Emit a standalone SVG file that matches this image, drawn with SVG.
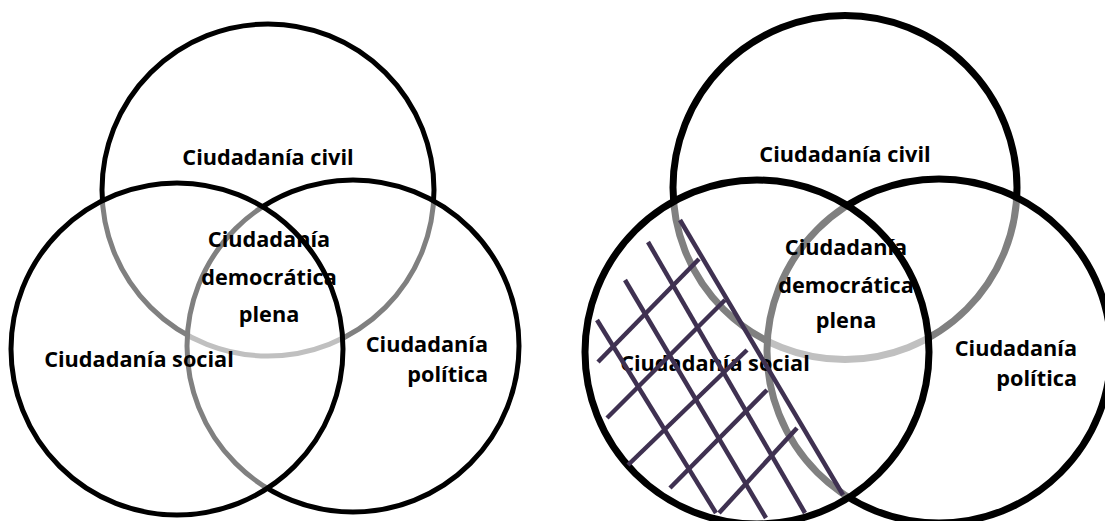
<svg xmlns="http://www.w3.org/2000/svg" width="1105" height="521" viewBox="0 0 1105 521">
<style>
.c1{fill:#fff;fill-opacity:0.5;stroke:#000;stroke-width:5}
.c2{fill:#fff;fill-opacity:0.5;stroke:#000;stroke-width:7}
.t{font-family:"Open Sans","Liberation Sans",sans-serif;font-weight:700;font-size:21.7px;fill:#000}
.m{text-anchor:middle}
.e{text-anchor:end}
.h{stroke:#3f3151;stroke-width:4.5;fill:none}
</style>
<rect width="1105" height="521" fill="#fff"/>
<g id="left-diagram">
  <g id="left-civil"><circle class="c1" cx="268" cy="190" r="166"/></g>
  <g id="left-politica"><circle class="c1" cx="353" cy="346" r="166"/></g>
  <g id="left-social"><circle class="c1" cx="177" cy="349" r="166"/></g>
  <g id="left-labels">
    <text class="t m" x="268" y="165">Ciudadanía civil</text>
    <text class="t m" x="269" y="247">Ciudadanía</text>
    <text class="t m" x="269" y="285">democrática</text>
    <text class="t m" x="269" y="322">plena</text>
    <text class="t m" x="139" y="367">Ciudadanía social</text>
    <text class="t e" x="488" y="352">Ciudadanía</text>
    <text class="t e" x="488" y="382">política</text>
  </g>
</g>
<g id="right-diagram">
  <g id="right-civil"><circle class="c2" cx="845" cy="187.5" r="172"/></g>
  <g id="right-politica"><circle class="c2" cx="939" cy="351" r="172"/></g>
  <g id="right-social"><circle class="c2" cx="757" cy="352" r="172"/></g>
  <g id="right-labels">
    <text class="t m" x="845" y="162">Ciudadanía civil</text>
    <text class="t m" x="846" y="255">Ciudadanía</text>
    <text class="t m" x="846" y="293">democrática</text>
    <text class="t m" x="846" y="328">plena</text>
    <text class="t m" x="715" y="371">Ciudadanía social</text>
    <text class="t e" x="1077" y="356">Ciudadanía</text>
    <text class="t e" x="1077" y="386">política</text>
  </g>
  <g id="right-hatch">
    <line class="h" x1="680" y1="220" x2="843" y2="495"/>
    <line class="h" x1="648" y1="242" x2="805" y2="513"/>
    <line class="h" x1="625" y1="280" x2="766" y2="518"/>
    <line class="h" x1="597" y1="320" x2="716" y2="513"/>
    <line class="h" x1="598" y1="362" x2="699" y2="259"/>
    <line class="h" x1="607" y1="418" x2="725" y2="300"/>
    <line class="h" x1="628" y1="465" x2="747" y2="350"/>
    <line class="h" x1="670" y1="488" x2="767" y2="390"/>
    <line class="h" x1="719" y1="513" x2="797" y2="428"/>
  </g>
</g>
</svg>
